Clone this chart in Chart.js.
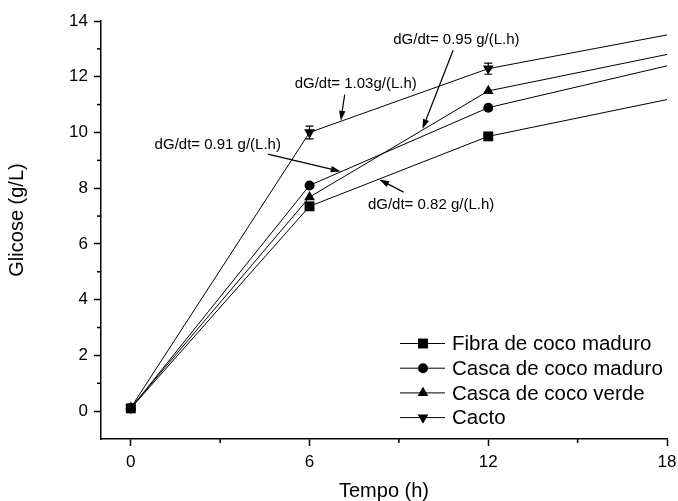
<!DOCTYPE html>
<html>
<head>
<meta charset="utf-8">
<script src="https://cdn.jsdelivr.net/npm/chart.js@4.4.0/dist/chart.umd.min.js"></script>
<style>
  html, body { margin: 0; padding: 0; background: #fff; }
  #wrap { width: 678px; height: 501px; }
</style>
</head>
<body>
<div id="wrap"><canvas id="myChart"></canvas></div>
<script>
// glucose (g/L) over time (h) for each substrate
const tempo = [0, 6, 12, 24];
const fibraCocoMaduro = [0.10, 7.35, 9.86, 12.50];
const cascaCocoMaduro = [0.10, 8.10, 10.89, 13.89];
const cascaCocoVerde = [0.12, 7.68, 11.49, 14.11];
const cacto = [0.12, 10.00, 12.29, 14.71];
const cactoErro = [0.10, 0.23, 0.20, 0];

const nomes = ['Fibra de coco maduro', 'Casca de coco maduro', 'Casca de coco verde', 'Cacto'];

const xTicks = [0, 6, 12, 18];
const xMinor = [3, 9, 15];
const yTicks = [0, 2, 4, 6, 8, 10, 12, 14];
const yMinor = [1, 3, 5, 7, 9, 11, 13];

const taxas = ['dG/dt= 0.95 g/(L.h)', 'dG/dt= 1.03g/(L.h)', 'dG/dt= 0.91 g/(L.h)', 'dG/dt= 0.82 g/(L.h)'];

const FONT = '"Liberation Sans", Arial, sans-serif';

// label position + arrow (tail -> tip), all in data units
const setas = [
  { text: taxas[0], at: [8.81, 13.34], from: [10.82, 12.95], to: [9.79, 10.12] },
  { text: taxas[1], at: [5.50, 11.73], from: [7.18, 11.36], to: [7.05, 10.42] },
  { text: taxas[2], at: [0.80, 9.54],  from: [4.60, 9.22],  to: [7.05, 8.60] },
  { text: taxas[3], at: [7.96, 7.39],  from: [9.16, 7.86],  to: [8.34, 8.31] }
];

function marker(ctx, style, x, y, r) {
  ctx.beginPath();
  if (style === 'rect') {
    const s = r * Math.SQRT1_2;
    ctx.rect(x - s, y - s, 2 * s, 2 * s);
  } else if (style === 'circle') {
    ctx.arc(x, y, r, 0, Math.PI * 2);
  } else {
    const d = style === 'down' ? -1 : 1;
    ctx.moveTo(x, y - d * r);
    ctx.lineTo(x + Math.sin(2 * Math.PI / 3) * r, y + d * r / 2);
    ctx.lineTo(x - Math.sin(2 * Math.PI / 3) * r, y + d * r / 2);
    ctx.closePath();
  }
  ctx.fill();
}

const extras = {
  id: 'extras',
  afterDatasetsDraw(chart) {
    const { ctx, chartArea, scales: { x, y } } = chart;
    ctx.save();
    ctx.strokeStyle = '#000';
    ctx.fillStyle = '#000';

    // error bars on Cacto
    ctx.lineWidth = 1.2;
    tempo.forEach((t, i) => {
      if (!cactoErro[i] || t > x.max) return;
      const px = x.getPixelForValue(t);
      const top = y.getPixelForValue(cacto[i] + cactoErro[i]);
      const bot = y.getPixelForValue(cacto[i] - cactoErro[i]);
      ctx.beginPath();
      ctx.moveTo(px, top); ctx.lineTo(px, bot);
      ctx.moveTo(px - 4, top); ctx.lineTo(px + 4, top);
      ctx.moveTo(px - 4, bot); ctx.lineTo(px + 4, bot);
      ctx.stroke();
    });

    // minor ticks
    ctx.lineWidth = 1.5;
    xMinor.forEach(v => {
      const px = x.getPixelForValue(v);
      ctx.beginPath();
      ctx.moveTo(px, chartArea.bottom); ctx.lineTo(px, chartArea.bottom + 4);
      ctx.stroke();
    });
    yMinor.forEach(v => {
      const py = y.getPixelForValue(v);
      ctx.beginPath();
      ctx.moveTo(chartArea.left, py); ctx.lineTo(chartArea.left - 4, py);
      ctx.stroke();
    });

    // rate labels with arrows
    ctx.font = '15px ' + FONT;
    ctx.textAlign = 'left';
    ctx.textBaseline = 'middle';
    ctx.lineWidth = 1.2;
    setas.forEach(s => {
      ctx.fillText(s.text, x.getPixelForValue(s.at[0]), y.getPixelForValue(s.at[1]));
      const x0 = x.getPixelForValue(s.from[0]), y0 = y.getPixelForValue(s.from[1]);
      const x1 = x.getPixelForValue(s.to[0]), y1 = y.getPixelForValue(s.to[1]);
      const a = Math.atan2(y1 - y0, x1 - x0);
      const len = 10, half = 3.2;
      const bx = x1 - Math.cos(a) * len, by = y1 - Math.sin(a) * len;
      ctx.beginPath();
      ctx.moveTo(x0, y0); ctx.lineTo(bx, by);
      ctx.stroke();
      ctx.beginPath();
      ctx.moveTo(x1, y1);
      ctx.lineTo(bx + Math.sin(a) * half, by - Math.cos(a) * half);
      ctx.lineTo(bx - Math.sin(a) * half, by + Math.cos(a) * half);
      ctx.closePath();
      ctx.fill();
    });

    // legend
    const estilos = ['rect', 'circle', 'up', 'down'];
    const raios = [7, 5, 6.2, 6.2];
    ctx.font = '20.5px ' + FONT;
    nomes.forEach((nome, i) => {
      const ly = 343.5 + i * 24.7;
      ctx.lineWidth = 1;
      ctx.beginPath();
      ctx.moveTo(400, ly); ctx.lineTo(445, ly);
      ctx.stroke();
      marker(ctx, estilos[i], 423, ly, raios[i]);
      ctx.fillText(nome, 452, ly + 1);
    });

    // y axis title
    ctx.font = '20px ' + FONT;
    ctx.translate(17.5, 220);
    ctx.rotate(-Math.PI / 2);
    ctx.textAlign = 'center';
    ctx.fillText('Glicose (g/L)', 0, 0);
    ctx.restore();
  }
};

function serie(label, data, style, radius, rotation) {
  return {
    label: label,
    data: data,
    borderColor: '#000',
    backgroundColor: '#000',
    borderWidth: 1,
    pointStyle: style,
    pointRadius: radius,
    pointRotation: rotation,
    pointBorderWidth: 0,
    pointHoverRadius: radius,
    tension: 0
  };
}

const ctx = document.getElementById('myChart');
new Chart(ctx, {
  type: 'line',
  data: {
    labels: tempo,
    datasets: [
      serie(nomes[0], fibraCocoMaduro.map((v, i) => ({ x: tempo[i], y: v })), 'rect', 7, 0),
      serie(nomes[1], cascaCocoMaduro.map((v, i) => ({ x: tempo[i], y: v })), 'circle', 5, 0),
      serie(nomes[2], cascaCocoVerde.map((v, i) => ({ x: tempo[i], y: v })), 'triangle', 6.2, 0),
      serie(nomes[3], cacto.map((v, i) => ({ x: tempo[i], y: v })), 'triangle', 6.2, 180)
    ]
  },
  options: {
    responsive: true,
    maintainAspectRatio: false,
    animation: false,
    layout: { padding: { top: 21, right: 11, bottom: 0, left: 0 } },
    plugins: { legend: { display: false }, tooltip: { enabled: false } },
    scales: {
      x: {
        type: 'linear',
        min: -1,
        max: 18,
        afterBuildTicks: s => { s.ticks = xTicks.map(v => ({ value: v })); },
        afterFit: s => { s.height = 62; s.paddingRight = 0; },
        border: { color: '#000', width: 1.5 },
        grid: { drawOnChartArea: false, tickLength: 7, tickWidth: 1.5, tickColor: '#000' },
        ticks: { color: '#000', padding: 6, maxRotation: 0, font: { family: FONT, size: 17 } },
        title: { display: true, text: 'Tempo (h)', color: '#000', padding: 0, font: { family: FONT, size: 20, lineHeight: 1 } }
      },
      y: {
        min: -1,
        max: 14,
        afterBuildTicks: s => { s.ticks = yTicks.map(v => ({ value: v })); },
        afterFit: s => { s.width = 101; },
        border: { color: '#000', width: 1.5 },
        grid: { drawOnChartArea: false, tickLength: 7, tickWidth: 1.5, tickColor: '#000' },
        ticks: { color: '#000', padding: 6, font: { family: FONT, size: 17 } }
      }
    }
  },
  plugins: [extras]
});
</script>
</body>
</html>
